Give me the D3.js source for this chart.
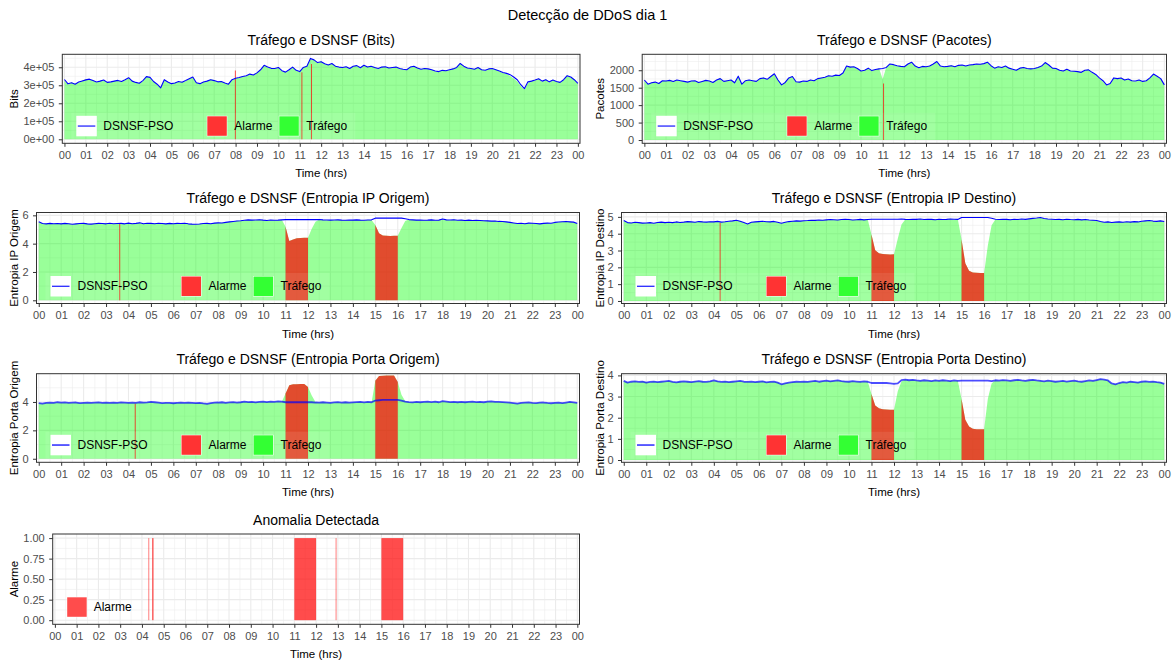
<!DOCTYPE html>
<html>
<head>
<meta charset="utf-8">
<script src="https://cdn.jsdelivr.net/npm/d3@7"></script>
<style>
  html, body { margin: 0; padding: 0; background: #ffffff; }
  svg { display: block; }
</style>
</head>
<body>
<svg id="chart" width="1175" height="662"></svg>
<script>
// ---------------------------------------------------------------
// Readings: one sample every 10 minutes, from 00:00 to 24:00 (145 values)
// ---------------------------------------------------------------
const sampleStepHours = 1 / 6;
const hourTicks = d3.range(0, 25);
const hourLabels = ["00","01","02","03","04","05","06","07","08","09","10","11",
                    "12","13","14","15","16","17","18","19","20","21","22","23","00"];

// ---- Bits -------------------------------------------------------
const bitsTraffic = [
  328e3,305e3,316e3,309e3,315e3,326e3,
  333e3,331e3,328e3,316e3,325e3,327e3,
  318e3,317e3,325e3,324e3,323e3,328e3,
  339e3,325e3,314e3,313e3,323e3,350e3,
  340e3,323e3,303e3,289e3,328e3,320e3,
  307e3,315e3,318e3,319e3,323e3,338e3,
  343e3,316e3,307e3,320e3,321e3,333e3,
  328e3,317e3,323e3,311e3,308e3,328e3,
  341e3,340e3,351e3,350e3,364e3,355e3,
  371e3,383e3,413e3,398e3,396e3,391e3,
  401e3,378e3,375e3,384e3,403e3,381e3,
  378e3,397e3,408e3,446e3,443e3,424e3,
  433e3,417e3,415e3,419e3,408e3,399e3,
  401e3,400e3,395e3,404e3,411e3,395e3,
  409e3,403e3,404e3,401e3,391e3,403e3,
  401e3,398e3,397e3,403e3,391e3,391e3,
  384e3,403e3,404e3,398e3,387e3,395e3,
  389e3,388e3,377e3,378e3,381e3,383e3,
  384e3,393e3,397e3,423e3,404e3,398e3,
  391e3,391e3,397e3,388e3,381e3,393e3,
  390e3,388e3,376e3,368e3,363e3,352e3,
  338e3,322e3,296e3,276e3,314e3,325e3,
  326e3,338e3,320e3,333e3,317e3,331e3,
  319e3,318e3,328e3,355e3,343e3,333e3,
  308e3
];
const bitsDsnsf = [
  332e3,308e3,314e3,306e3,318e3,324e3,
  330e3,334e3,326e3,318e3,323e3,329e3,
  316e3,319e3,323e3,327e3,321e3,331e3,
  342e3,323e3,316e3,311e3,326e3,348e3,
  344e3,321e3,306e3,286e3,331e3,318e3,
  309e3,313e3,321e3,317e3,326e3,336e3,
  346e3,314e3,309e3,318e3,323e3,331e3,
  326e3,319e3,321e3,313e3,306e3,331e3,
  339e3,343e3,349e3,353e3,362e3,357e3,
  369e3,386e3,411e3,401e3,394e3,393e3,
  399e3,381e3,373e3,386e3,401e3,383e3,
  376e3,399e3,406e3,449e3,441e3,426e3,
  431e3,419e3,413e3,421e3,406e3,401e3,
  399e3,403e3,393e3,406e3,409e3,397e3,
  411e3,401e3,406e3,399e3,393e3,401e3,
  403e3,396e3,399e3,401e3,393e3,389e3,
  386e3,401e3,406e3,396e3,389e3,393e3,
  391e3,386e3,379e3,376e3,383e3,381e3,
  386e3,391e3,399e3,421e3,406e3,396e3,
  393e3,389e3,399e3,386e3,383e3,391e3,
  393e3,386e3,379e3,371e3,366e3,359e3,
  346e3,331e3,303e3,281e3,319e3,323e3,
  329e3,336e3,323e3,331e3,319e3,329e3,
  321e3,316e3,331e3,353e3,346e3,331e3,
  311e3
];
const bitsSpikeHours  = [7.99, 11.1, 11.55];
const bitsSpikeValues = [382e3, 372e3, 418e3];
const bitsTicks = [0, 1e5, 2e5, 3e5, 4e5];

// ---- Pacotes ----------------------------------------------------
const pacotesTraffic = [
  1700,1590,1650,1650,1630,1690,
  1700,1700,1690,1710,1690,1690,
  1650,1700,1690,1660,1670,1720,
  1680,1660,1710,1770,1670,1710,
  1710,1650,1820,1610,1690,1730,
  1690,1690,1750,1790,1730,1830,
  1890,1730,1570,1660,1770,1830,
  1660,1670,1680,1690,1710,1710,
  1750,1790,1790,1850,1820,1870,
  1840,1930,2110,2100,2090,2060,
  1970,2010,2050,2000,2010,2050,
  1750,2090,2170,2170,2120,2120,
  2090,2190,2220,2130,2060,2120,
  2090,2130,2170,2260,2110,2110,
  2100,2140,2090,2150,2140,2130,
  2140,2170,2170,2180,2180,2240,
  2120,2070,2090,2090,2110,2070,
  2020,2010,2050,2090,2040,2050,
  2040,2090,2110,2230,2140,2070,
  2040,2010,1970,2040,1970,1980,
  1950,1950,1990,2020,1930,1870,
  1760,1680,1560,1610,1770,1770,
  1770,1730,1740,1710,1680,1730,
  1670,1710,1770,1900,1820,1770,
  1570
];
const pacotesDsnsf = [
  1720,1600,1640,1660,1620,1700,
  1690,1710,1680,1720,1700,1680,
  1660,1690,1700,1650,1680,1710,
  1690,1650,1720,1760,1680,1700,
  1720,1640,1830,1600,1700,1720,
  1700,1680,1760,1780,1740,1820,
  1900,1720,1580,1650,1780,1820,
  1670,1660,1690,1680,1720,1700,
  1760,1780,1800,1840,1830,1860,
  1850,1920,2120,2090,2100,2050,
  1980,2000,2060,1990,2020,2040,
  2050,2080,2180,2160,2130,2110,
  2100,2180,2230,2120,2070,2110,
  2100,2120,2180,2250,2120,2100,
  2110,2130,2100,2140,2150,2120,
  2150,2160,2180,2170,2190,2230,
  2130,2060,2100,2080,2120,2060,
  2030,2000,2060,2080,2050,2040,
  2050,2080,2120,2220,2150,2060,
  2050,2000,1980,2030,1980,1970,
  1960,1940,2000,2010,1940,1880,
  1780,1700,1580,1620,1780,1760,
  1780,1720,1750,1700,1690,1720,
  1680,1700,1780,1890,1830,1760,
  1580
];
const pacotesSpikeHours  = [11.04];
const pacotesSpikeValues = [1620];
const pacotesTicks = [0, 500, 1000, 1500, 2000];

// ---- Entropia IP Origem -----------------------------------------
const ipOrigemTraffic = [
  5.52,5.44,5.38,5.44,5.40,5.43,
  5.41,5.42,5.43,5.36,5.41,5.41,
  5.42,5.41,5.37,5.42,5.42,5.43,
  5.41,5.43,5.42,5.41,5.44,5.39,
  5.44,5.42,5.42,5.48,5.39,5.45,
  5.42,5.42,5.43,5.43,5.39,5.44,
  5.40,5.44,5.41,5.45,5.39,5.39,
  5.36,5.40,5.41,5.44,5.40,5.46,
  5.46,5.47,5.49,5.55,5.56,5.61,
  5.61,5.66,5.67,5.67,5.66,5.70,
  5.65,5.65,5.66,5.66,5.65,5.69,
  5.20,4.18,4.30,4.38,4.40,4.42,
  4.42,5.05,5.55,5.70,5.67,5.66,
  5.67,5.66,5.69,5.65,5.66,5.66,
  5.67,5.67,5.67,5.64,5.68,5.67,
  5.32,4.74,4.58,4.55,4.54,4.55,
  4.55,5.10,5.60,5.71,5.67,5.67,
  5.66,5.66,5.65,5.69,5.64,5.67,
  5.73,5.69,5.66,5.70,5.64,5.67,
  5.65,5.65,5.64,5.64,5.65,5.61,
  5.62,5.58,5.61,5.56,5.57,5.53,
  5.51,5.45,5.43,5.43,5.42,5.44,
  5.45,5.41,5.41,5.42,5.46,5.43,
  5.51,5.52,5.56,5.55,5.55,5.51,
  5.41
];
const ipOrigemDsnsf = [
  5.55,5.42,5.40,5.43,5.41,5.42,
  5.40,5.43,5.41,5.37,5.40,5.42,
  5.43,5.40,5.38,5.41,5.43,5.42,
  5.40,5.44,5.41,5.42,5.43,5.40,
  5.45,5.41,5.43,5.47,5.40,5.44,
  5.43,5.41,5.44,5.42,5.40,5.43,
  5.41,5.43,5.42,5.44,5.40,5.38,
  5.37,5.39,5.42,5.43,5.41,5.45,
  5.47,5.46,5.50,5.54,5.57,5.60,
  5.62,5.65,5.68,5.66,5.67,5.69,
  5.66,5.64,5.67,5.65,5.66,5.68,
  5.70,5.70,5.70,5.70,5.70,5.70,
  5.70,5.70,5.70,5.71,5.68,5.67,
  5.66,5.67,5.68,5.66,5.65,5.67,
  5.66,5.68,5.66,5.65,5.67,5.68,
  5.80,5.80,5.80,5.80,5.80,5.80,
  5.80,5.80,5.76,5.70,5.68,5.66,
  5.67,5.65,5.66,5.68,5.65,5.66,
  5.74,5.68,5.67,5.69,5.65,5.66,
  5.64,5.66,5.63,5.65,5.64,5.62,
  5.61,5.59,5.60,5.57,5.56,5.54,
  5.50,5.46,5.42,5.44,5.41,5.45,
  5.44,5.42,5.40,5.43,5.45,5.44,
  5.50,5.53,5.55,5.56,5.54,5.52,
  5.42
];
const ipOrigemSpikeHours  = [3.61];
const ipOrigemSpikeValues = [5.44];
const ipOrigemTicks = [0, 2, 4, 6];

// ---- Entropia IP Destino ----------------------------------------
const ipDestinoTraffic = [
  4.76,4.67,4.63,4.69,4.65,4.64,
  4.63,4.67,4.61,4.68,4.68,4.67,
  4.67,4.67,4.69,4.68,4.68,4.73,
  4.69,4.69,4.71,4.71,4.68,4.72,
  4.69,4.74,4.68,4.72,4.73,4.77,
  4.79,4.75,4.65,4.57,4.69,4.69,
  4.73,4.73,4.72,4.69,4.74,4.67,
  4.61,4.69,4.71,4.75,4.75,4.76,
  4.76,4.79,4.79,4.80,4.80,4.81,
  4.81,4.85,4.82,4.82,4.83,4.87,
  4.83,4.82,4.82,4.86,4.81,4.85,
  3.95,3.02,2.84,2.80,2.78,2.76,
  2.78,3.70,4.55,4.84,4.83,4.87,
  4.84,4.88,4.83,4.87,4.84,4.84,
  4.85,4.85,4.84,4.88,4.85,4.86,
  3.65,2.25,1.80,1.70,1.68,1.66,
  1.66,3.30,4.50,4.84,4.83,4.87,
  4.84,4.84,4.85,4.85,4.86,4.86,
  4.87,4.92,4.92,4.97,4.89,4.88,
  4.85,4.85,4.84,4.84,4.85,4.85,
  4.82,4.86,4.81,4.85,4.80,4.81,
  4.77,4.73,4.67,4.71,4.66,4.70,
  4.69,4.69,4.70,4.70,4.71,4.71,
  4.73,4.77,4.77,4.76,4.72,4.77,
  4.71
];
const ipDestinoDsnsf = [
  4.78,4.66,4.64,4.68,4.66,4.63,
  4.64,4.66,4.62,4.67,4.69,4.66,
  4.68,4.66,4.70,4.67,4.69,4.72,
  4.70,4.68,4.72,4.70,4.69,4.71,
  4.70,4.73,4.69,4.71,4.74,4.76,
  4.80,4.74,4.66,4.58,4.68,4.70,
  4.72,4.74,4.71,4.70,4.73,4.68,
  4.62,4.68,4.72,4.74,4.76,4.75,
  4.77,4.78,4.80,4.79,4.81,4.80,
  4.82,4.84,4.83,4.81,4.84,4.86,
  4.84,4.81,4.83,4.85,4.82,4.84,
  4.86,4.86,4.86,4.86,4.86,4.86,
  4.86,4.86,4.87,4.85,4.84,4.86,
  4.85,4.87,4.84,4.86,4.85,4.83,
  4.86,4.84,4.85,4.87,4.86,4.85,
  4.96,4.96,4.96,4.96,4.96,4.96,
  4.96,4.96,4.92,4.86,4.84,4.86,
  4.85,4.83,4.86,4.84,4.87,4.85,
  4.88,4.91,4.93,4.96,4.90,4.87,
  4.86,4.84,4.85,4.83,4.86,4.84,
  4.83,4.85,4.82,4.84,4.81,4.80,
  4.78,4.72,4.68,4.70,4.67,4.69,
  4.70,4.68,4.71,4.69,4.72,4.70,
  4.74,4.76,4.78,4.75,4.73,4.76,
  4.72
];
const ipDestinoSpikeHours  = [4.28];
const ipDestinoSpikeValues = [4.64];
const ipDestinoTicks = [0, 1, 2, 3, 4, 5];

// ---- Entropia Porta Origem --------------------------------------
const portaOrigemTraffic = [
  3.93,3.87,3.95,3.95,3.94,3.97,
  3.96,3.96,3.94,3.94,3.97,3.91,
  3.95,3.95,3.94,3.94,3.98,3.93,
  3.97,3.92,3.96,3.93,3.98,3.94,
  3.94,3.95,3.95,3.97,3.96,3.96,
  4.01,3.97,3.96,3.91,3.95,3.92,
  3.92,3.93,3.97,3.92,3.96,3.93,
  3.93,3.93,3.91,3.86,3.93,3.94,
  3.97,3.97,3.95,3.96,4.00,3.95,
  3.99,4.01,4.00,4.00,3.98,3.99,
  4.04,3.98,4.03,3.99,4.05,4.01,
  4.60,5.18,5.24,5.25,5.26,5.26,
  5.05,4.45,4.00,3.96,3.99,3.95,
  3.95,3.96,4.00,3.95,3.99,3.94,
  3.98,3.98,4.02,3.96,4.01,3.97,
  5.50,5.82,5.85,5.86,5.86,5.86,
  5.40,4.50,4.05,3.98,3.98,3.99,
  3.99,4.00,4.04,3.98,4.03,3.97,
  4.07,4.02,4.00,4.00,3.99,3.99,
  3.99,3.99,4.03,3.98,4.02,3.97,
  4.03,4.03,4.01,4.00,4.00,3.96,
  3.96,3.91,3.89,3.92,3.96,3.96,
  3.95,3.91,3.96,3.95,3.94,3.90,
  3.94,3.94,3.93,3.95,4.01,3.96,
  3.92
];
const portaOrigemDsnsf = [
  3.92,3.88,3.94,3.96,3.93,3.98,
  3.95,3.97,3.93,3.95,3.96,3.92,
  3.94,3.96,3.93,3.95,3.97,3.94,
  3.96,3.93,3.95,3.94,3.97,3.95,
  3.93,3.96,3.94,3.98,3.95,3.97,
  4.00,3.98,3.95,3.92,3.94,3.93,
  3.91,3.94,3.96,3.93,3.95,3.94,
  3.92,3.94,3.90,3.87,3.92,3.95,
  3.96,3.98,3.94,3.97,3.99,3.96,
  3.98,4.02,3.99,4.01,3.97,4.00,
  4.03,3.99,4.02,4.00,4.04,4.02,
  3.98,3.98,3.98,3.98,3.98,3.98,
  3.98,3.98,3.96,3.95,3.98,3.96,
  3.94,3.97,3.99,3.96,3.98,3.95,
  3.97,3.99,4.01,3.97,4.00,3.98,
  4.10,4.12,4.14,4.14,4.14,4.14,
  4.14,4.10,4.02,3.99,3.97,4.00,
  3.98,4.01,4.03,3.99,4.02,3.98,
  4.06,4.03,3.99,4.01,3.98,4.00,
  3.98,4.00,4.02,3.99,4.01,3.98,
  4.02,4.04,4.00,4.01,3.99,3.97,
  3.95,3.92,3.88,3.93,3.95,3.97,
  3.94,3.92,3.95,3.96,3.93,3.91,
  3.93,3.95,3.92,3.96,4.00,3.97,
  3.93
];
const portaOrigemSpikeHours  = [4.3];
const portaOrigemSpikeValues = [3.88];
const portaOrigemTicks = [0, 2, 4];

// ---- Entropia Porta Destino -------------------------------------
const portaDestinoTraffic = [
  3.72,3.67,3.69,3.73,3.68,3.72,
  3.67,3.68,3.72,3.67,3.71,3.71,
  3.73,3.70,3.66,3.71,3.71,3.71,
  3.67,3.72,3.72,3.71,3.68,3.73,
  3.75,3.73,3.68,3.72,3.67,3.71,
  3.71,3.75,3.69,3.70,3.70,3.69,
  3.69,3.73,3.66,3.70,3.70,3.67,
  3.57,3.63,3.65,3.69,3.69,3.70,
  3.70,3.70,3.71,3.75,3.69,3.74,
  3.74,3.73,3.73,3.77,3.72,3.72,
  3.69,3.74,3.70,3.70,3.71,3.71,
  3.12,2.58,2.45,2.40,2.39,2.38,
  2.38,3.25,3.72,3.81,3.76,3.80,
  3.75,3.75,3.76,3.76,3.72,3.77,
  3.73,3.78,3.74,3.74,3.75,3.75,
  2.88,1.90,1.58,1.48,1.46,1.45,
  1.45,2.90,3.62,3.78,3.74,3.79,
  3.75,3.75,3.76,3.80,3.75,3.75,
  3.76,3.80,3.75,3.75,3.71,3.76,
  3.72,3.71,3.71,3.75,3.70,3.74,
  3.74,3.73,3.69,3.74,3.75,3.75,
  3.77,3.83,3.79,3.77,3.61,3.59,
  3.63,3.69,3.65,3.71,3.67,3.67,
  3.69,3.73,3.68,3.72,3.67,3.67,
  3.59
];
const portaDestinoDsnsf = [
  3.74,3.66,3.70,3.72,3.69,3.71,
  3.66,3.69,3.71,3.68,3.70,3.72,
  3.74,3.69,3.67,3.70,3.72,3.70,
  3.68,3.71,3.73,3.70,3.69,3.72,
  3.76,3.72,3.69,3.71,3.68,3.70,
  3.72,3.74,3.70,3.69,3.71,3.68,
  3.70,3.72,3.67,3.69,3.71,3.66,
  3.58,3.62,3.66,3.68,3.70,3.69,
  3.71,3.69,3.72,3.74,3.70,3.73,
  3.75,3.72,3.74,3.76,3.73,3.71,
  3.70,3.73,3.71,3.69,3.72,3.70,
  3.64,3.64,3.64,3.64,3.64,3.62,
  3.60,3.62,3.78,3.80,3.77,3.79,
  3.76,3.74,3.77,3.75,3.73,3.76,
  3.74,3.77,3.75,3.73,3.76,3.74,
  3.75,3.75,3.75,3.75,3.75,3.75,
  3.75,3.75,3.73,3.77,3.75,3.78,
  3.76,3.74,3.77,3.79,3.76,3.74,
  3.77,3.79,3.76,3.74,3.72,3.75,
  3.73,3.70,3.72,3.74,3.71,3.73,
  3.75,3.72,3.70,3.73,3.76,3.74,
  3.78,3.82,3.80,3.76,3.62,3.58,
  3.64,3.68,3.66,3.70,3.68,3.66,
  3.70,3.72,3.69,3.71,3.68,3.66,
  3.60
];
const portaDestinoSpikeHours  = [];
const portaDestinoSpikeValues = [];
const portaDestinoTicks = [0, 1, 2, 3, 4];

// ---- Alarm windows (hours) flagged on the entropy series ---------
const entropyAlarmStart = [11, 15];
const entropyAlarmEnd   = [12, 16];

// ---- Detected anomalies (hours) ---------------------------------
const anomalyStart = [4.30, 4.47, 11.0, 12.90, 15.0];
const anomalyEnd   = [4.333, 4.53, 12.0, 12.933, 16.0];
const anomalyTicks = [0, 0.25, 0.5, 0.75, 1];

// ---------------------------------------------------------------
// Styling
// ---------------------------------------------------------------
const FONT = "'Liberation Sans', Arial, Helvetica, sans-serif";
const GREEN = "#00FF00", RED = "#FF0000", BLUE = "#0000FF";
const TICK_GREY = "#4D4D4D", FRAME = "#333333", GRID = "#EBEBEB";

const svg = d3.select("#chart").style("font-family", FONT);
svg.append("rect").attr("width", 1175).attr("height", 662).attr("fill", "#fff");

svg.append("text")
  .attr("x", 587.5).attr("y", 20)
  .attr("text-anchor", "middle")
  .attr("font-size", 14.5).attr("fill", "#000")
  .text("Detecção de DDoS dia 1");

function sciLabel(v) {
  if (v === 0) return "0e+00";
  const e = Math.floor(Math.log10(Math.abs(v)));
  const m = Math.round(v / Math.pow(10, e));
  return m + "e" + (e < 0 ? "-" : "+") + String(Math.abs(e)).padStart(2, "0");
}

function toPoints(values) {
  return values.map((v, i) => ({ t: i * sampleStepHours, v }));
}

function minorBreaks(major, domain) {
  const step = major[1] - major[0];
  const ext = [major[0] - step].concat(major, [major[major.length - 1] + step]);
  const out = [];
  for (let i = 0; i < ext.length - 1; i++) {
    const m = (ext[i] + ext[i + 1]) / 2;
    if (m >= domain[0] && m <= domain[1]) out.push(m);
  }
  return out;
}

let clipId = 0;

function drawPanel(p) {
  const g = svg.append("g");
  const { x0, x1, y0, y1 } = p.frame;
  const x = d3.scaleLinear().domain([-0.1, 24.1]).range([x0, x1]);
  const y = d3.scaleLinear().domain(p.yDomain).range([y1, y0]);

  // title
  g.append("text")
    .attr("x", (x0 + x1) / 2).attr("y", y0 - 9.5)
    .attr("text-anchor", "middle").attr("font-size", 14).attr("fill", "#000")
    .text(p.title);

  // panel background + grid
  g.append("rect").attr("x", x0).attr("y", y0).attr("width", x1 - x0).attr("height", y1 - y0)
    .attr("fill", "#fff");

  const grid = g.append("g");
  const hourMinor = d3.range(0.5, 24, 1);
  const yMinor = minorBreaks(p.yTicks, p.yDomain);
  grid.selectAll("line.vmin").data(hourMinor).join("line")
    .attr("x1", d => x(d)).attr("x2", d => x(d)).attr("y1", y0).attr("y2", y1)
    .attr("stroke", GRID).attr("stroke-width", 0.55);
  grid.selectAll("line.hmin").data(yMinor).join("line")
    .attr("x1", x0).attr("x2", x1).attr("y1", d => y(d)).attr("y2", d => y(d))
    .attr("stroke", GRID).attr("stroke-width", 0.55);
  grid.selectAll("line.vmaj").data(hourTicks).join("line")
    .attr("x1", d => x(d)).attr("x2", d => x(d)).attr("y1", y0).attr("y2", y1)
    .attr("stroke", GRID).attr("stroke-width", 1.1);
  grid.selectAll("line.hmaj").data(p.yTicks).join("line")
    .attr("x1", x0).attr("x2", x1).attr("y1", d => y(d)).attr("y2", d => y(d))
    .attr("stroke", GRID).attr("stroke-width", 1.1);

  const cid = "clip" + (clipId++);
  g.append("clipPath").attr("id", cid).append("rect")
    .attr("x", x0).attr("y", y0).attr("width", x1 - x0).attr("height", y1 - y0);
  const plot = g.append("g").attr("clip-path", `url(#${cid})`);

  if (p.traffic) {
    const pts = toPoints(p.traffic);
    const area = d3.area().x(d => x(d.t)).y0(y(0)).y1(d => y(d.v));
    plot.append("path").datum(pts).attr("d", area)
      .attr("fill", GREEN).attr("fill-opacity", 0.4);

    // alarm windows painted over the traffic
    (p.alarmStart || []).forEach((s, i) => {
      const e = p.alarmEnd[i];
      const seg = pts.filter(d => d.t >= s - 1e-9 && d.t <= e + 1e-9);
      plot.append("path").datum(seg).attr("d", area)
        .attr("fill", RED).attr("fill-opacity", 0.7);
    });

    // single-sample alarms
    p.spikeHours.forEach((h, i) => {
      plot.append("line")
        .attr("x1", x(h)).attr("x2", x(h))
        .attr("y1", y(0)).attr("y2", y(p.spikeValues[i]))
        .attr("stroke", RED).attr("stroke-opacity", 0.7).attr("stroke-width", 1);
    });

    const line = d3.line().x(d => x(d.t)).y(d => y(d.v));
    plot.append("path").datum(toPoints(p.dsnsf)).attr("d", line)
      .attr("fill", "none").attr("stroke", BLUE)
      .attr("stroke-width", p.lineWidth).attr("stroke-opacity", p.lineOpacity)
      .attr("stroke-linejoin", "round");
  }

  if (p.anomalyStart) {
    plot.selectAll("rect.anom").data(p.anomalyStart).join("rect")
      .attr("x", d => x(d))
      .attr("width", (d, i) => x(p.anomalyEnd[i]) - x(d))
      .attr("y", y(1)).attr("height", y(0) - y(1))
      .attr("fill", RED).attr("fill-opacity", 0.7);
  }

  // legend inside the panel, bottom left
  const ly = y1 - 27.5;
  const lg = g.append("g");
  const K = 20.5;
  const items = p.legend;
  if (items.length > 1) {
    lg.append("rect").attr("x", x0 + 9).attr("y", ly - 3)
      .attr("width", 284).attr("height", 27)
      .attr("fill", "#fff").attr("fill-opacity", 0.08);
  }
  const offsets = items.length > 1
    ? [{ k: 14, t: 41 }, { k: 144.5, t: 172 }, { k: 216.5, t: 244 }]
    : [{ k: 14, t: 41 }];
  items.forEach((it, i) => {
    const kx = x0 + offsets[i].k;
    if (it.type === "line") {
      lg.append("rect").attr("x", kx).attr("y", ly).attr("width", K).attr("height", K).attr("fill", "#fff");
      lg.append("line").attr("x1", kx + 1.5).attr("x2", kx + K - 1.5)
        .attr("y1", ly + K / 2).attr("y2", ly + K / 2)
        .attr("stroke", BLUE).attr("stroke-width", p.lineWidth).attr("stroke-opacity", p.lineOpacity);
    } else {
      lg.append("rect").attr("x", kx).attr("y", ly).attr("width", K).attr("height", K).attr("fill", "#fff");
      lg.append("rect").attr("x", kx + 0.5).attr("y", ly + 0.5).attr("width", K - 1).attr("height", K - 1)
        .attr("fill", it.color).attr("fill-opacity", it.opacity);
    }
    lg.append("text").attr("x", x0 + offsets[i].t).attr("y", ly + K / 2 + 4.2)
      .attr("font-size", 12).attr("fill", "#000").text(it.label);
  });

  // frame
  g.append("rect").attr("x", x0).attr("y", y0).attr("width", x1 - x0).attr("height", y1 - y0)
    .attr("fill", "none").attr("stroke", FRAME).attr("stroke-width", 1);

  // x axis
  const xa = g.append("g").attr("transform", `translate(0,${y1})`)
    .call(d3.axisBottom(x).tickValues(hourTicks).tickFormat((d, i) => hourLabels[i])
      .tickSizeOuter(0).tickSizeInner(3.5).tickPadding(4.5));
  xa.select(".domain").remove();
  xa.selectAll(".tick line").attr("stroke", FRAME);
  xa.selectAll(".tick text").attr("font-size", 11).attr("fill", TICK_GREY).attr("font-family", FONT);

  // y axis
  const ya = g.append("g").attr("transform", `translate(${x0},0)`)
    .call(d3.axisLeft(y).tickValues(p.yTicks).tickFormat(p.yFormat)
      .tickSizeOuter(0).tickSizeInner(3.5).tickPadding(4.5));
  ya.select(".domain").remove();
  ya.selectAll(".tick line").attr("stroke", FRAME);
  ya.selectAll(".tick text").attr("font-size", 11).attr("fill", TICK_GREY).attr("font-family", FONT);

  // axis titles
  g.append("text").attr("x", (x0 + x1) / 2).attr("y", y1 + 34)
    .attr("text-anchor", "middle").attr("font-size", 11.5).attr("fill", "#000")
    .text("Time (hrs)");
  g.append("text")
    .attr("transform", `translate(${p.yTitleX},${(y0 + y1) / 2}) rotate(-90)`)
    .attr("text-anchor", "middle").attr("dy", "0.35em")
    .attr("font-size", 11.5).attr("fill", "#000")
    .text(p.yTitle);
}

const legendFull = [
  { type: "line", label: "DSNSF-PSO" },
  { type: "box", label: "Alarme", color: RED, opacity: 0.8 },
  { type: "box", label: "Tráfego", color: GREEN, opacity: 0.8 }
];

const rows = [[54.3, 143.3], [212.5, 303.5], [373.7, 462.3], [534, 624.3]];
const numFmt = d => String(d);

const panels = [
  { title: "Tráfego e DSNSF (Bits)", yTitle: "Bits", yTitleX: 13.5,
    frame: { x0: 62.3, x1: 580, y0: rows[0][0], y1: rows[0][1] },
    traffic: bitsTraffic, dsnsf: bitsDsnsf,
    spikeHours: bitsSpikeHours, spikeValues: bitsSpikeValues,
    yTicks: bitsTicks, yFormat: sciLabel, yDomain: [-22200, 472000],
    lineWidth: 1.1, lineOpacity: 1, legend: legendFull },
  { title: "Tráfego e DSNSF (Pacotes)", yTitle: "Pacotes", yTitleX: 600,
    frame: { x0: 642.2, x1: 1166.5, y0: rows[0][0], y1: rows[0][1] },
    traffic: pacotesTraffic, dsnsf: pacotesDsnsf,
    spikeHours: pacotesSpikeHours, spikeValues: pacotesSpikeValues,
    yTicks: pacotesTicks, yFormat: numFmt, yDomain: [-94, 2457],
    lineWidth: 1.1, lineOpacity: 1, legend: legendFull },
  { title: "Tráfego e DSNSF (Entropia IP Origem)", yTitle: "Entropia IP Origem", yTitleX: 13.5,
    frame: { x0: 36.5, x1: 579.5, y0: rows[1][0], y1: rows[1][1] },
    traffic: ipOrigemTraffic, dsnsf: ipOrigemDsnsf,
    alarmStart: entropyAlarmStart, alarmEnd: entropyAlarmEnd,
    spikeHours: ipOrigemSpikeHours, spikeValues: ipOrigemSpikeValues,
    yTicks: ipOrigemTicks, yFormat: numFmt, yDomain: [-0.226, 6.2],
    lineWidth: 1.1, lineOpacity: 1, legend: legendFull },
  { title: "Tráfego e DSNSF (Entropia IP Destino)", yTitle: "Entropia IP Destino", yTitleX: 600,
    frame: { x0: 621.5, x1: 1166.5, y0: rows[1][0], y1: rows[1][1] },
    traffic: ipDestinoTraffic, dsnsf: ipDestinoDsnsf,
    alarmStart: entropyAlarmStart, alarmEnd: entropyAlarmEnd,
    spikeHours: ipDestinoSpikeHours, spikeValues: ipDestinoSpikeValues,
    yTicks: ipDestinoTicks, yFormat: numFmt, yDomain: [-0.15, 5.26],
    lineWidth: 1.1, lineOpacity: 1, legend: legendFull },
  { title: "Tráfego e DSNSF (Entropia Porta Origem)", yTitle: "Entropia Porta Origem", yTitleX: 13.5,
    frame: { x0: 36.5, x1: 579.5, y0: rows[2][0], y1: rows[2][1] },
    traffic: portaOrigemTraffic, dsnsf: portaOrigemDsnsf,
    alarmStart: entropyAlarmStart, alarmEnd: entropyAlarmEnd,
    spikeHours: portaOrigemSpikeHours, spikeValues: portaOrigemSpikeValues,
    yTicks: portaOrigemTicks, yFormat: numFmt, yDomain: [-0.25, 5.99],
    lineWidth: 1.8, lineOpacity: 0.7, legend: legendFull },
  { title: "Tráfego e DSNSF (Entropia Porta Destino)", yTitle: "Entropia Porta Destino", yTitleX: 600,
    frame: { x0: 621.5, x1: 1166.5, y0: rows[2][0], y1: rows[2][1] },
    traffic: portaDestinoTraffic, dsnsf: portaDestinoDsnsf,
    alarmStart: entropyAlarmStart, alarmEnd: entropyAlarmEnd,
    spikeHours: portaDestinoSpikeHours, spikeValues: portaDestinoSpikeValues,
    yTicks: portaDestinoTicks, yFormat: numFmt, yDomain: [-0.108, 4.08],
    lineWidth: 1.8, lineOpacity: 0.7, legend: legendFull },
  { title: "Anomalia Detectada", yTitle: "Alarme", yTitleX: 14,
    frame: { x0: 52.7, x1: 579.5, y0: rows[3][0], y1: rows[3][1] },
    anomalyStart: anomalyStart, anomalyEnd: anomalyEnd,
    yTicks: anomalyTicks, yFormat: d3.format(".2f"), yDomain: [-0.05, 1.05],
    lineWidth: 1, lineOpacity: 1,
    legend: [{ type: "box", label: "Alarme", color: RED, opacity: 0.7 }] }
];

panels.forEach(drawPanel);
</script>
</body>
</html>
